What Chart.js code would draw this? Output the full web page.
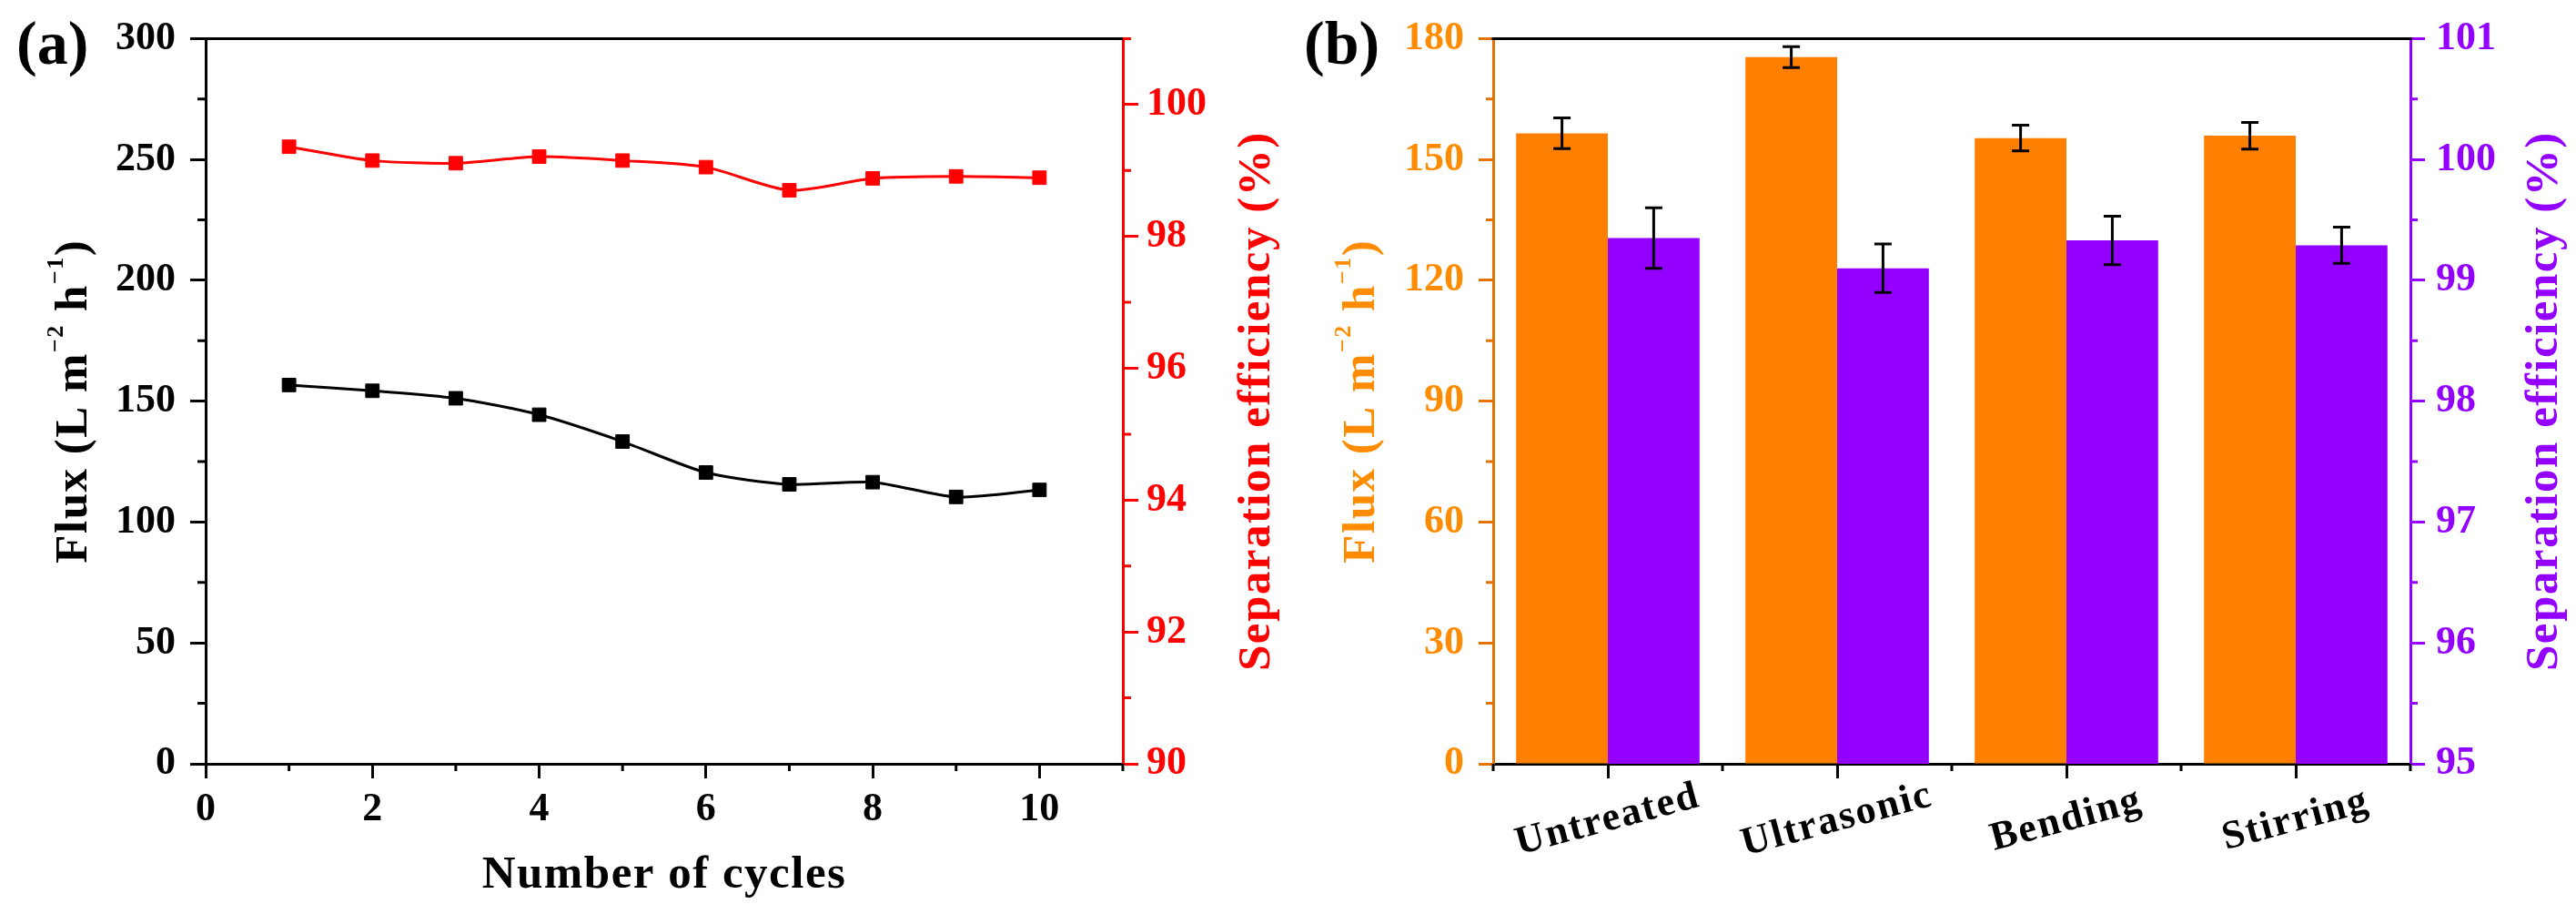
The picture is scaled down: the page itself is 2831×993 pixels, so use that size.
<!DOCTYPE html>
<html>
<head>
<meta charset="utf-8">
<script src="https://cdn.jsdelivr.net/npm/chart.js@4.4.0/dist/chart.umd.min.js"></script>
<style>
  body { margin: 0; background: #fff; }
  #wrap { position: relative; width: 2831px; height: 993px; }
  canvas { position: absolute; top: 0; }
  #cyclesChart { left: 0; }
  #treatChart { left: 1415px; }
</style>
</head>
<body>
<div id="wrap">
  <canvas id="cyclesChart" width="1415" height="993"></canvas>
  <canvas id="treatChart" width="1416" height="993"></canvas>
</div>
<script>
// (a) cycling test
const cycles = [1, 2, 3, 4, 5, 6, 7, 8, 9, 10];
const cycleFlux = [156.7, 154.3, 151.2, 144.4, 133.3, 120.5, 115.6, 116.5, 110.4, 113.3];
const cycleEfficiency = [99.36, 99.15, 99.11, 99.21, 99.15, 99.05, 98.70, 98.88, 98.91, 98.89];
const cycleTicks = [0, 2, 4, 6, 8, 10];
const cycleFluxTicks = [0, 50, 100, 150, 200, 250, 300];
const cycleEffTicks = [90, 92, 94, 96, 98, 100];

// (b) stability under treatments
const treatments = ['Untreated', 'Ultrasonic', 'Bending', 'Stirring'];
const treatFlux = [156.5, 175.4, 155.3, 155.9];
const treatFluxErr = [3.8, 2.6, 3.2, 3.3];
const treatEfficiency = [99.35, 99.10, 99.33, 99.29];
const treatEfficiencyErr = [0.25, 0.2, 0.2, 0.15];
const treatFluxTicks = [0, 30, 60, 90, 120, 150, 180];
const treatEffTicks = [95, 96, 97, 98, 99, 100, 101];

const SERIF = '"Liberation Serif", "Times New Roman", serif';
const ORANGE = '#ff8000';
const ORANGE_AXIS = '#e47200';
const ORANGE_TEXT = '#ff8c00';
const PURPLE = '#9300ff';
const RED = '#ff0000';

Chart.defaults.font.family = SERIF;
Chart.defaults.font.weight = 'bold';

const tickFont = { family: SERIF, weight: 'bold', size: 44 };

const fixTicks = (values) => (scale) => {
  scale.ticks = values.map(v => ({ value: v }));
};

const axisGrid = (color, len) => ({
  display: true,
  drawOnChartArea: false,
  drawTicks: true,
  tickLength: len,
  tickWidth: 3,
  tickColor: color,
});

// draws a text made of runs (normal / superscript), centred at cx, cy
const drawRuns = (ctx, runs, cx, cy, angle, color) => {
  const big = 51, small = 26;
  ctx.save();
  ctx.translate(cx, cy);
  ctx.rotate(angle);
  ctx.fillStyle = color;
  ctx.textAlign = 'left';
  ctx.textBaseline = 'alphabetic';
  ctx.letterSpacing = '1.5px';
  let total = 0;
  const widths = runs.map(r => {
    ctx.font = `bold ${r.sup ? small : big}px ${SERIF}`;
    const w = ctx.measureText(r.text).width;
    total += w;
    return w;
  });
  let x = -total / 2;
  runs.forEach((r, i) => {
    ctx.font = `bold ${r.sup ? small : big}px ${SERIF}`;
    ctx.fillText(r.text, x, r.sup ? 17 - 26 : 17);
    x += widths[i];
  });
  ctx.restore();
};

const fluxRuns = [
  { text: 'Flux (L m' }, { text: '\u22122', sup: true },
  { text: ' h' }, { text: '\u22121', sup: true }, { text: ')' }
];
const effRuns = [{ text: 'Separation efficiency (%)' }];

const decor = {
  id: 'decor',
  afterDatasetsDraw(chart, args, opts) {
    const ctx = chart.ctx;
    chart.data.datasets.forEach((ds, i) => {
      if (!ds.errorBars) return;
      const meta = chart.getDatasetMeta(i);
      const scale = chart.scales[meta.yAxisID];
      ctx.save();
      ctx.strokeStyle = '#000';
      ctx.lineWidth = 3;
      meta.data.forEach((bar, j) => {
        const v = ds.data[j], e = ds.errorBars[j];
        const top = scale.getPixelForValue(v + e);
        const bot = scale.getPixelForValue(v - e);
        ctx.beginPath();
        ctx.moveTo(bar.x, top); ctx.lineTo(bar.x, bot);
        ctx.moveTo(bar.x - 9.5, top); ctx.lineTo(bar.x + 9.5, top);
        ctx.moveTo(bar.x - 9.5, bot); ctx.lineTo(bar.x + 9.5, bot);
        ctx.stroke();
      });
      ctx.restore();
    });
  },
  afterDraw(chart, args, opts) {
    const ctx = chart.ctx;
    const area = chart.chartArea;
    const midY = (area.top + area.bottom) / 2;

    // top frame line
    ctx.save();
    ctx.strokeStyle = '#000';
    ctx.lineWidth = 3;
    ctx.beginPath();
    ctx.moveTo(area.left - 1.5, area.top);
    ctx.lineTo(area.right + 1.5, area.top);
    ctx.stroke();

    // minor ticks
    (opts.minor || []).forEach(m => {
      const scale = chart.scales[m.axis];
      const majors = scale.ticks.map(t => t.value);
      const from = m.from !== undefined ? m.from : scale.min;
      const to = m.to !== undefined ? m.to : scale.max;
      ctx.strokeStyle = scale.options.grid.tickColor;
      ctx.beginPath();
      for (let v = from; v <= to + 1e-9; v += m.step) {
        if (majors.some(t => Math.abs(t - v) < 1e-9)) continue;
        const p = scale.getPixelForValue(v);
        const pos = scale.options.position;
        if (pos === 'left') { ctx.moveTo(scale.right, p); ctx.lineTo(scale.right - m.len, p); }
        else if (pos === 'right') { ctx.moveTo(scale.left, p); ctx.lineTo(scale.left + m.len, p); }
        else { ctx.moveTo(p, scale.top); ctx.lineTo(p, scale.top + m.len); }
      }
      ctx.stroke();
    });
    ctx.restore();

    // rotated category labels, centred under the ticks
    if (opts.categoryLabels) {
      const xs = chart.scales.x;
      ctx.save();
      ctx.fillStyle = '#000';
      ctx.font = `bold 44px ${SERIF}`;
      ctx.letterSpacing = '2px';
      ctx.textAlign = 'center';
      ctx.textBaseline = 'middle';
      xs.getLabels().forEach((lab, i) => {
        ctx.save();
        ctx.translate(xs.getPixelForTick(i), area.bottom + 62);
        ctx.rotate(-15 * Math.PI / 180);
        ctx.fillText(lab, 0, 0);
        ctx.restore();
      });
      ctx.restore();
    }

    // axis titles
    const t = opts.titles;
    drawRuns(ctx, fluxRuns, area.left - 148, midY, -Math.PI / 2, t.leftColor);
    drawRuns(ctx, effRuns, area.right + 144, midY, -Math.PI / 2, t.rightColor);
    if (t.bottom) {
      drawRuns(ctx, [{ text: t.bottom }], (area.left + area.right) / 2, 958, 0, '#000');
    }

    // panel letter
    ctx.save();
    ctx.fillStyle = '#000';
    ctx.font = `bold 68px ${SERIF}`;
    ctx.textAlign = 'left';
    ctx.textBaseline = 'alphabetic';
    ctx.fillText(opts.panel, 18, 70);
    ctx.restore();
  }
};

// ---------- (a) ----------
new Chart(document.getElementById('cyclesChart'), {
  type: 'scatter',
  data: {
    datasets: [{
      label: 'Flux',
      data: cycles.map((c, i) => ({ x: c, y: cycleFlux[i] })),
      yAxisID: 'y',
      showLine: true,
      borderColor: '#000',
      backgroundColor: '#000',
      borderWidth: 3,
      pointStyle: 'rect',
      pointRadius: 10.5,
      pointBorderWidth: 1,
      tension: 0.25,
    }, {
      label: 'Separation efficiency',
      data: cycles.map((c, i) => ({ x: c, y: cycleEfficiency[i] })),
      yAxisID: 'y1',
      showLine: true,
      borderColor: RED,
      backgroundColor: RED,
      borderWidth: 3,
      pointStyle: 'rect',
      pointRadius: 10.5,
      pointBorderWidth: 1,
      tension: 0.25,
    }]
  },
  options: {
    responsive: false,
    devicePixelRatio: 1,
    animation: false,
    layout: { padding: { top: 28, left: 0, right: 0, bottom: 0 } },
    plugins: {
      legend: { display: false },
      tooltip: { enabled: false },
      decor: {
        panel: '(a)',
        titles: { leftColor: '#000', rightColor: RED, bottom: 'Number of cycles' },
        minor: [
          { axis: 'x', step: 1, len: 8 },
          { axis: 'y', step: 25, len: 9 },
          { axis: 'y1', step: 1, len: 9 },
        ]
      }
    },
    scales: {
      x: {
        type: 'linear', position: 'bottom', min: 0, max: 11,
        afterBuildTicks: fixTicks(cycleTicks),
        afterFit: s => { s.height = 154; },
        ticks: { color: '#000', font: tickFont, padding: 8, autoSkip: false, maxRotation: 0 },
        grid: axisGrid('#000', 16),
        border: { display: true, color: '#000', width: 3 },
      },
      y: {
        type: 'linear', position: 'left', min: 0, max: 300,
        afterBuildTicks: fixTicks(cycleFluxTicks),
        afterFit: s => { s.width = 226; },
        ticks: { color: '#000', font: tickFont, padding: 16, autoSkip: false },
        grid: axisGrid('#000', 17),
        border: { display: true, color: '#000', width: 3 },
      },
      y1: {
        type: 'linear', position: 'right', min: 90, max: 101,
        afterBuildTicks: fixTicks(cycleEffTicks),
        afterFit: s => { s.width = 181; },
        ticks: { color: RED, font: tickFont, padding: 9, autoSkip: false },
        grid: axisGrid(RED, 17),
        border: { display: true, color: RED, width: 3 },
      }
    }
  },
  plugins: [decor]
});

// ---------- (b) ----------
new Chart(document.getElementById('treatChart'), {
  type: 'bar',
  data: {
    labels: treatments,
    datasets: [{
      label: 'Flux',
      data: treatFlux,
      errorBars: treatFluxErr,
      yAxisID: 'y',
      backgroundColor: ORANGE,
      borderWidth: 0,
      categoryPercentage: 0.8,
      barPercentage: 1.0,
    }, {
      label: 'Separation efficiency',
      data: treatEfficiency,
      errorBars: treatEfficiencyErr,
      yAxisID: 'y1',
      backgroundColor: PURPLE,
      borderWidth: 0,
      categoryPercentage: 0.8,
      barPercentage: 1.0,
    }]
  },
  options: {
    responsive: false,
    devicePixelRatio: 1,
    animation: false,
    layout: { padding: { top: 28, left: 0, right: 0, bottom: 0 } },
    plugins: {
      legend: { display: false },
      tooltip: { enabled: false },
      decor: {
        panel: '(b)',
        categoryLabels: true,
        titles: { leftColor: ORANGE_TEXT, rightColor: PURPLE },
        minor: [
          { axis: 'x', from: -0.5, to: 3.5, step: 1, len: 8 },
          { axis: 'y', step: 15, len: 8 },
          { axis: 'y1', step: 0.5, len: 8 },
        ]
      }
    },
    scales: {
      x: {
        type: 'category', position: 'bottom',
        afterFit: s => { s.height = 154; },
        ticks: { display: false },
        grid: Object.assign(axisGrid('#000', 16), { offset: false }),
        border: { display: true, color: '#000', width: 3 },
      },
      y: {
        type: 'linear', position: 'left', min: 0, max: 180,
        afterBuildTicks: fixTicks(treatFluxTicks),
        afterFit: s => { s.width = 226; },
        ticks: { color: ORANGE_TEXT, font: tickFont, padding: 16, autoSkip: false },
        grid: axisGrid(ORANGE_AXIS, 16),
        border: { display: true, color: ORANGE_AXIS, width: 3 },
      },
      y1: {
        type: 'linear', position: 'right', min: 95, max: 101,
        afterBuildTicks: fixTicks(treatEffTicks),
        afterFit: s => { s.width = 182; },
        ticks: { color: PURPLE, font: tickFont, padding: 12, autoSkip: false },
        grid: axisGrid(PURPLE, 16),
        border: { display: true, color: PURPLE, width: 3 },
      }
    }
  },
  plugins: [decor]
});
</script>
</body>
</html>
